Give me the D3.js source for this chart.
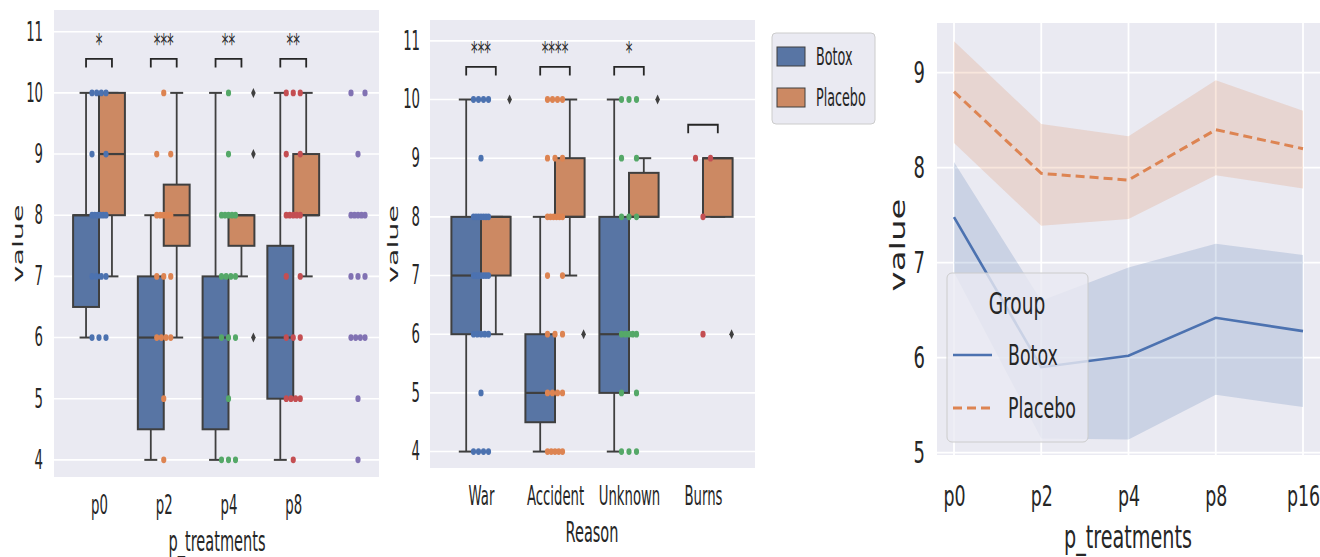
<!DOCTYPE html>
<html>
<head>
<meta charset="utf-8">
<script src="https://cdn.jsdelivr.net/npm/d3@7"></script>
<style>
    body { margin: 0; background: #fff; }
    text { font-family: "DejaVu Sans", sans-serif; fill: #262626; }
</style>
</head>
<body>
<svg id="chart" width="1320" height="557"></svg>
<script>
// ----- data
const groups = ['Botox', 'Placebo'];
const treatments = ['p0', 'p2', 'p4', 'p8', 'p16'];
const treatmentLabels = ['p0', 'p2', 'p4', 'p8', ''];
const reasons = ['War', 'Accident', 'Unknown', 'Burns'];
const yTicks = [4, 5, 6, 7, 8, 9, 10, 11];

// box stats per category: [whisker low, q1, median, q3, whisker high]
const treatBotox = [[6, 6.5, 8, 8, 10], [4, 4.5, 6, 7, 8], [4, 4.5, 6, 7, 10], [4, 5, 6, 7.5, 10], null];
const treatPlacebo = [[7, 8, 9, 10, 10], [6, 7.5, 8, 8.5, 10], [7, 7.5, 8, 8, 8], [7, 8, 8, 9, 10], null];
const treatBotoxFliers = [[], [], [], [], []];
const treatPlaceboFliers = [[], [], [10, 9, 6], [], []];
// strip points: [value, count]
const treatStrip = [
    [[10, 4], [9, 2], [8, 6], [7, 4], [6, 3]],
    [[10, 1], [9, 2], [8, 5], [7, 3], [6, 4], [5, 1], [4, 1]],
    [[10, 1], [9, 1], [8, 5], [7, 4], [6, 3], [5, 1], [4, 3]],
    [[10, 3], [9, 2], [8, 5], [7, 2], [6, 3], [5, 4], [4, 1]],
    [[10, 2], [9, 1], [8, 5], [7, 3], [6, 4], [5, 1], [4, 1]],
];
const treatStars = ['*', '***', '**', '**', ''];
const treatBracket = [10.555, 10.555, 10.555, 10.555, null];

const reasonBotox = [[4, 6, 7, 8, 10], [4, 4.5, 5, 6, 8], [4, 5, 6, 8, 10], null];
const reasonPlacebo = [[6, 7, 8, 8, 8], [7, 8, 8, 9, 10], [8, 8, 8, 8.75, 9], [8, 8, 9, 9, 9]];
const reasonBotoxFliers = [[], [], [], []];
const reasonPlaceboFliers = [[10], [6], [10], [6]];
const reasonStrip = [
    [[10, 4], [9, 1], [8, 7], [7, 7], [6, 5], [5, 1], [4, 4]],
    [[10, 4], [9, 3], [8, 6], [7, 2], [6, 3], [5, 4], [4, 5]],
    [[10, 3], [9, 2], [8, 3], [6, 5], [5, 2], [4, 3]],
    [[9, 2], [8, 1], [6, 1]],
];
const reasonStars = ['***', '****', '*', ''];
const reasonBracket = [10.555, 10.555, 10.555, 9.57];

const weeks = ['p0', 'p2', 'p4', 'p8', 'p16'];
const botoxMean = [7.48, 5.9, 6.02, 6.42, 6.28];
const botoxLow = [6.9, 5.15, 5.14, 5.61, 5.48];
const botoxHigh = [8.06, 6.6, 6.95, 7.2, 7.08];
const placeboMean = [8.8, 7.94, 7.87, 8.4, 8.2];
const placeboLow = [8.26, 7.39, 7.46, 7.92, 7.78];
const placeboHigh = [9.33, 8.46, 8.33, 8.92, 8.6];
const lineTicks = [5, 6, 7, 8, 9];

// ----- styles
const BG = '#eaeaf2', INK = '#262626', EDGE = '#3f3f3f';
const boxColors = ['#5875a4', '#cc8963'];
const lineColors = ['#4c72b0', '#dd8452'];
const stripColors = ['#4c72b0', '#dd8452', '#55a868', '#c44e52', '#8172b3'];
const SX = 0.51;   // the picture is squeezed sideways
const SX3 = 0.6;

const svg = d3.select('#chart');

function txt(g, x, y, s, size, sx, anchor = 'middle', rot = false) {
    return g.append('text')
        .attr('transform', `translate(${x},${y})` + (rot ? ` rotate(-90) scale(1,${sx})` : ` scale(${sx},1)`))
        .attr('text-anchor', anchor)
        .attr('font-size', size)
        .text(s);
}

function styleAxis(ax, size, sx) {
    ax.attr('font-family', null).attr('font-size', size).attr('color', INK);
    ax.select('.domain').remove();
    ax.selectAll('text')
        .attr('x', function () { return (+this.getAttribute('x') || 0) / sx; })
        .attr('transform', `scale(${sx},1)`);
}

// ----- box panels
function boxPanel(o) {
    const x = d3.scalePoint().domain(o.cats).range(o.xRange);
    const y = d3.scaleLinear().domain([3.72, 11.355]).range([o.bottom, o.top]);
    const bw = x.step() * 0.4;
    const g = svg.append('g');

    g.append('rect')
        .attr('x', o.left).attr('y', o.top)
        .attr('width', o.right - o.left).attr('height', o.bottom - o.top)
        .attr('fill', BG);
    g.append('g').selectAll('line').data(yTicks).join('line')
        .attr('x1', o.left).attr('x2', o.right)
        .attr('y1', d => y(d)).attr('y2', d => y(d))
        .attr('stroke', '#fff').attr('stroke-width', 1.6);

    const ya = g.append('g').attr('transform', `translate(${o.left},0)`)
        .call(d3.axisLeft(y).tickValues(yTicks).tickSize(0).tickPadding(o.yPad).tickFormat(d3.format('d')));
    styleAxis(ya, 26, SX);
    const xa = g.append('g').attr('transform', `translate(0,${o.bottom})`)
        .call(d3.axisBottom(x).tickSize(0).tickPadding(o.xPad).tickFormat((d, i) => o.labels[i]));
    styleAxis(xa, 26, SX);

    // boxes
    groups.forEach((grp, gi) => {
        const off = (gi - 0.5) * bw;
        o.stats[gi].forEach((s, i) => {
            if (!s) return;
            const cx = x(o.cats[i]) + off;
            const [lo, q1, med, q3, hi] = s;
            const b = g.append('g').attr('stroke', EDGE);
            b.append('line').attr('x1', cx).attr('x2', cx).attr('y1', y(lo)).attr('y2', y(q1)).attr('stroke-width', 1.8);
            b.append('line').attr('x1', cx).attr('x2', cx).attr('y1', y(q3)).attr('y2', y(hi)).attr('stroke-width', 1.8);
            [lo, hi].forEach(v => b.append('line')
                .attr('x1', cx - bw / 4).attr('x2', cx + bw / 4)
                .attr('y1', y(v)).attr('y2', y(v)).attr('stroke-width', 2));
            b.append('rect')
                .attr('x', cx - bw / 2).attr('width', bw)
                .attr('y', y(q3)).attr('height', y(q1) - y(q3))
                .attr('fill', boxColors[gi]).attr('stroke-width', 2);
            b.append('line').attr('x1', cx - bw / 2).attr('x2', cx + bw / 2)
                .attr('y1', y(med)).attr('y2', y(med)).attr('stroke-width', 2.2);
        });
        o.fliers[gi].forEach((vals, i) => vals.forEach(v => {
            g.append('path')
                .attr('transform', `translate(${x(o.cats[i]) + off + bw / 2 - 1},${y(v)})`)
                .attr('d', 'M0,-5L2.3,0L0,5L-2.3,0Z')
                .attr('fill', EDGE);
        }));
    });

    // strip points, spread evenly over the jitter width
    o.strip.forEach((pairs, i) => pairs.forEach(([v, n]) => d3.range(n).forEach(k => {
        const dx = n > 1 ? -o.jitter + 2 * o.jitter * k / (n - 1) : 0;
        g.append('ellipse')
            .attr('cx', x(o.cats[i]) + dx).attr('cy', y(v))
            .attr('rx', 2.6).attr('ry', 3.4)
            .attr('fill', stripColors[i]);
    })));

    // significance brackets
    o.cats.forEach((c, i) => {
        if (o.bracket[i] == null) return;
        const xa0 = x(c) - bw / 2, xb0 = x(c) + bw / 2, yt = y(o.bracket[i]);
        g.append('path')
            .attr('d', `M${xa0},${yt + 8.5}V${yt}H${xb0}V${yt + 8.5}`)
            .attr('fill', 'none').attr('stroke', INK).attr('stroke-width', 1.8);
        if (o.stars[i]) txt(g, x(c), yt - 6, o.stars[i], 26, SX);
    });

    txt(g, o.xLabelX, o.xLabelY, o.xLabel, 28.5, SX);
    txt(g, o.yLabelX, (o.top + o.bottom) / 2, 'value', 28.5, SX, 'middle', true);
}

boxPanel({
    cats: treatments, labels: treatmentLabels, xRange: [99, 358],
    left: 54, right: 379, top: 10, bottom: 477, yPad: 11, xPad: 18.5,
    stats: [treatBotox, treatPlacebo], fliers: [treatBotoxFliers, treatPlaceboFliers],
    strip: treatStrip, jitter: 7, stars: treatStars, bracket: treatBracket,
    xLabel: 'p_treatments', xLabelX: 217, xLabelY: 551, yLabelX: 23,
});

boxPanel({
    cats: reasons, labels: reasons, xRange: [481, 703],
    left: 430, right: 755, top: 20, bottom: 468, yPad: 10, xPad: 19,
    stats: [reasonBotox, reasonPlacebo], fliers: [reasonBotoxFliers, reasonPlaceboFliers],
    strip: reasonStrip, jitter: 7.5, stars: reasonStars, bracket: reasonBracket,
    xLabel: 'Reason', xLabelX: 592, xLabelY: 542, yLabelX: 398,
});

// ----- shared legend for the box panels
const leg = svg.append('g');
leg.append('rect').attr('x', 772).attr('y', 33).attr('width', 103).attr('height', 91).attr('rx', 4)
    .attr('fill', BG).attr('stroke', '#cccccc');
groups.forEach((grp, gi) => {
    leg.append('rect').attr('x', 777).attr('y', 47 + gi * 41).attr('width', 28).attr('height', 19)
        .attr('fill', boxColors[gi]).attr('stroke', EDGE).attr('stroke-width', 1);
    txt(leg, 816, 65 + gi * 41, grp, 25, SX, 'start');
});

// ----- line panel
const p3 = { left: 937, right: 1320, top: 23, bottom: 455 };
const x3 = d3.scalePoint().domain(weeks).range([954, 1303]);
const y3 = d3.scaleLinear().domain([4.976, 9.523]).range([p3.bottom, p3.top]);
const g3 = svg.append('g');

g3.append('rect').attr('x', p3.left).attr('y', p3.top)
    .attr('width', p3.right - p3.left).attr('height', p3.bottom - p3.top).attr('fill', BG);
g3.append('g').selectAll('line').data(lineTicks).join('line')
    .attr('x1', p3.left).attr('x2', p3.right).attr('y1', d => y3(d)).attr('y2', d => y3(d))
    .attr('stroke', '#fff').attr('stroke-width', 1.8);
g3.append('g').selectAll('line').data(weeks).join('line')
    .attr('x1', d => x3(d)).attr('x2', d => x3(d)).attr('y1', p3.top).attr('y2', p3.bottom)
    .attr('stroke', '#fff').attr('stroke-width', 1.8);

const ya3 = g3.append('g').attr('transform', `translate(${p3.left},0)`)
    .call(d3.axisLeft(y3).tickValues(lineTicks).tickSize(0).tickPadding(12).tickFormat(d3.format('d')));
styleAxis(ya3, 30, SX3);
const xa3 = g3.append('g').attr('transform', `translate(0,${p3.bottom})`)
    .call(d3.axisBottom(x3).tickSize(0).tickPadding(30));
styleAxis(xa3, 29, SX3);

const series = [
    { mean: botoxMean, low: botoxLow, high: botoxHigh, dash: null, width: 2.6 },
    { mean: placeboMean, low: placeboLow, high: placeboHigh, dash: '9,5', width: 3 },
];
series.forEach((s, gi) => {
    const area = d3.area()
        .x((d, i) => x3(weeks[i]))
        .y0((d, i) => y3(s.low[i]))
        .y1((d, i) => y3(s.high[i]));
    g3.append('path').attr('d', area(s.mean)).attr('fill', lineColors[gi]).attr('fill-opacity', 0.2);
});
series.forEach((s, gi) => {
    const line = d3.line().x((d, i) => x3(weeks[i])).y(d => y3(d));
    g3.append('path').attr('d', line(s.mean))
        .attr('fill', 'none').attr('stroke', lineColors[gi]).attr('stroke-width', s.width)
        .attr('stroke-dasharray', s.dash);
});

txt(g3, 1128, 548, 'p_treatments', 32, SX3);
txt(g3, 905, 245, 'value', 34, SX3, 'middle', true);

// legend inside the line panel
const leg3 = g3.append('g');
leg3.append('rect').attr('x', 947).attr('y', 273).attr('width', 141).attr('height', 169).attr('rx', 5)
    .attr('fill', BG).attr('fill-opacity', 0.8).attr('stroke', '#cccccc');
txt(leg3, 1017, 314, 'Group', 31, SX3);
series.forEach((s, gi) => {
    leg3.append('line').attr('x1', 953).attr('x2', 992).attr('y1', 355 + gi * 53).attr('y2', 355 + gi * 53)
        .attr('stroke', lineColors[gi]).attr('stroke-width', s.width).attr('stroke-dasharray', s.dash);
    txt(leg3, 1008, 365 + gi * 53, groups[gi], 29, SX3, 'start');
});
</script>
</body>
</html>
